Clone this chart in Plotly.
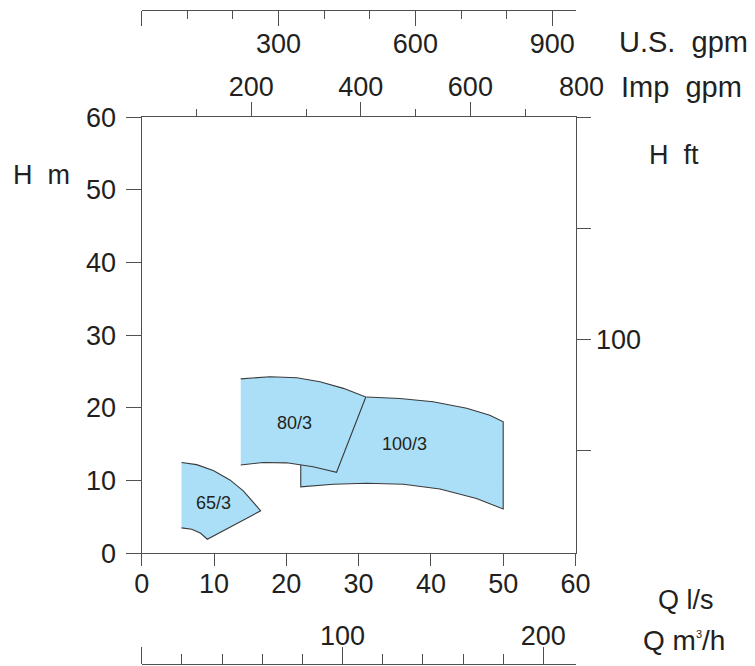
import plotly.graph_objects as go

# ---------------- data ----------------
# pump operating regions: boundary points (Q in l/s, H in m)
q_65 = [5.5, 7.6, 9.9, 12.2, 14.05, 15.45, 16.45, 9.07, 8.16, 6.92, 5.5]
h_65 = [12.5, 12.2, 11.4, 10.1, 8.6, 7.0, 5.85, 1.93, 2.75, 3.3, 3.5]

q_80 = [13.7, 17.75, 21.45, 24.65, 27.9, 31.0, 26.95, 23.7, 20.05, 16.8, 13.7]
h_80 = [24.0, 24.3, 24.15, 23.6, 22.7, 21.5, 11.15, 11.9, 12.45, 12.5, 12.15]

q_100 = [31.1, 35.7, 40.3, 44.95, 48.15, 50.0, 50.0, 46.3, 41.25, 36.2, 31.1, 26.5, 22.0, 22.0]
h_100 = [21.5, 21.3, 20.85, 19.95, 19.0, 18.1, 6.1, 7.55, 8.85, 9.5, 9.65, 9.5, 9.15, 12.6]

pump_names = ["65/3", "80/3", "100/3"]
label_q = [9.9, 21.2, 36.4]
label_h = [6.9, 17.9, 15.0]

x_ticks = [0, 10, 20, 30, 40, 50, 60]          # Q l/s
y_ticks = [0, 10, 20, 30, 40, 50, 60]          # H m
ft_ticks = [50, 100, 150, 200]
ft_text = ["", "100", "", ""]
usgpm_ticks = [0, 300, 600, 900]
usgpm_text = ["", "300", "600", "900"]
usgpm_minor = [100, 200, 400, 500, 700, 800]
impgpm_ticks = [200, 400, 600]
impgpm_minor = [100, 300, 500, 700]
m3h_ticks = [0, 100, 200]
m3h_text = ["", "100", "200"]
m3h_minor = [20, 40, 60, 80, 120, 140, 160, 180]

LS_TO_USGPM = 15.850
LS_TO_IMPGPM = 13.198
LS_TO_M3H = 3.6
FT_RANGE = [3.5, 200.05]

# ---------------- style ----------------
OFF = 8                      # page body margin in the browser
W, H = 755 - OFF, 666 - OFF  # figure size
FONT = "Arial, Liberation Sans, Helvetica, sans-serif"
TXT = "#231f20"
LINE = "#505050"
FILL = "#abdff8"
EDGE = "#3a3a3a"


def fx(px):
    return (px - OFF) / W


def fy(py):
    return (H - (py - OFF)) / H


x0p, x1p = 141.7, 575.5      # window-pixel extents of plot
ytop, ybot = 117.3, 553.3
xd = [fx(x0p), fx(x1p)]
yd = [fy(ybot), fy(ytop)]

fig = go.Figure()

for qs, hs in [(q_65, h_65), (q_100, h_100), (q_80, h_80)]:
    fig.add_trace(go.Scatter(
        x=qs, y=hs, mode="lines", fill="toself", fillcolor=FILL,
        line=dict(color=EDGE, width=1.1), hoverinfo="skip", showlegend=False,
    ))

for name, q, h in zip(pump_names, label_q, label_h):
    fig.add_annotation(x=q, y=h, xref="x", yref="y", text=name, showarrow=False,
                       font=dict(family=FONT, size=18, color=TXT))

tickfont = dict(family=FONT, size=27, color=TXT)
axcommon = dict(showgrid=False, zeroline=False, showline=True, linecolor=LINE,
                linewidth=1.3, ticks="outside", tickcolor=LINE, tickwidth=1.3,
                tickfont=tickfont, fixedrange=True, automargin=False)
minor_common = dict(ticks="outside", tickcolor=LINE, tickwidth=1.3, showgrid=False)

fig.update_layout(
    template="none",
    width=W, height=H,
    margin=dict(l=0, r=0, t=0, b=0, autoexpand=False),
    paper_bgcolor="white", plot_bgcolor="white",
    showlegend=False,
    xaxis=dict(domain=xd, range=[0, 60], tickvals=x_ticks, ticklen=12,
               ticklabelstandoff=-6, anchor="y", **axcommon),
    yaxis=dict(domain=yd, range=[0, 60], tickvals=y_ticks, ticklen=15,
               ticklabelstandoff=4, anchor="x", **axcommon),
    yaxis2=dict(overlaying="y", side="right", anchor="x",
                range=FT_RANGE, tickvals=ft_ticks, ticktext=ft_text,
                ticklen=14, **axcommon),
    xaxis2=dict(overlaying="x", side="top", anchor="y",
                range=[0, 60 * LS_TO_IMPGPM], tickvals=impgpm_ticks, ticklen=14,
                ticklabelstandoff=-5,
                minor=dict(tickvals=impgpm_minor, ticklen=7, **minor_common),
                **axcommon),
    xaxis3=dict(overlaying="x", side="bottom", anchor="free", position=fy(9.5),
                range=[0, 60 * LS_TO_USGPM], tickvals=usgpm_ticks, ticktext=usgpm_text,
                ticklen=15, ticklabelstandoff=-5,
                minor=dict(tickvals=usgpm_minor, ticklen=8, **minor_common),
                **axcommon),
    xaxis4=dict(overlaying="x", side="top", anchor="free", position=fy(664),
                range=[0, 60 * LS_TO_M3H], tickvals=m3h_ticks, ticktext=m3h_text,
                ticklen=17, ticklabelstandoff=-9,
                minor=dict(tickvals=m3h_minor, ticklen=10, **minor_common),
                **axcommon),
)

# dummy traces so that the secondary axes are drawn
fig.add_trace(go.Scatter(x=[None], y=[None], xaxis="x", yaxis="y2", showlegend=False))
fig.add_trace(go.Scatter(x=[None], y=[None], xaxis="x2", yaxis="y", showlegend=False))
fig.add_trace(go.Scatter(x=[None], y=[None], xaxis="x3", yaxis="y", showlegend=False))
fig.add_trace(go.Scatter(x=[None], y=[None], xaxis="x4", yaxis="y", showlegend=False))


def px_annot(text, xpx, ypx, size=27, xanchor="left"):
    fig.add_annotation(x=fx(xpx), y=fy(ypx), xref="paper", yref="paper",
                       text=text, showarrow=False, xanchor=xanchor, yanchor="middle",
                       font=dict(family=FONT, size=size, color=TXT))


px_annot("U.S.  gpm", 617, 42, size=29)
px_annot("Imp  gpm", 619, 87, size=29)
px_annot("800", 581, 87, xanchor="center")
px_annot("H  m", 11, 175, size=27)
px_annot("H  ft", 647, 155, size=27)
px_annot("Q l/s", 656, 600)
px_annot("Q m<sup><span style='font-size:11px'>3</span></sup>/h", 641, 640, size=28)

fig.write_html("out.html")
